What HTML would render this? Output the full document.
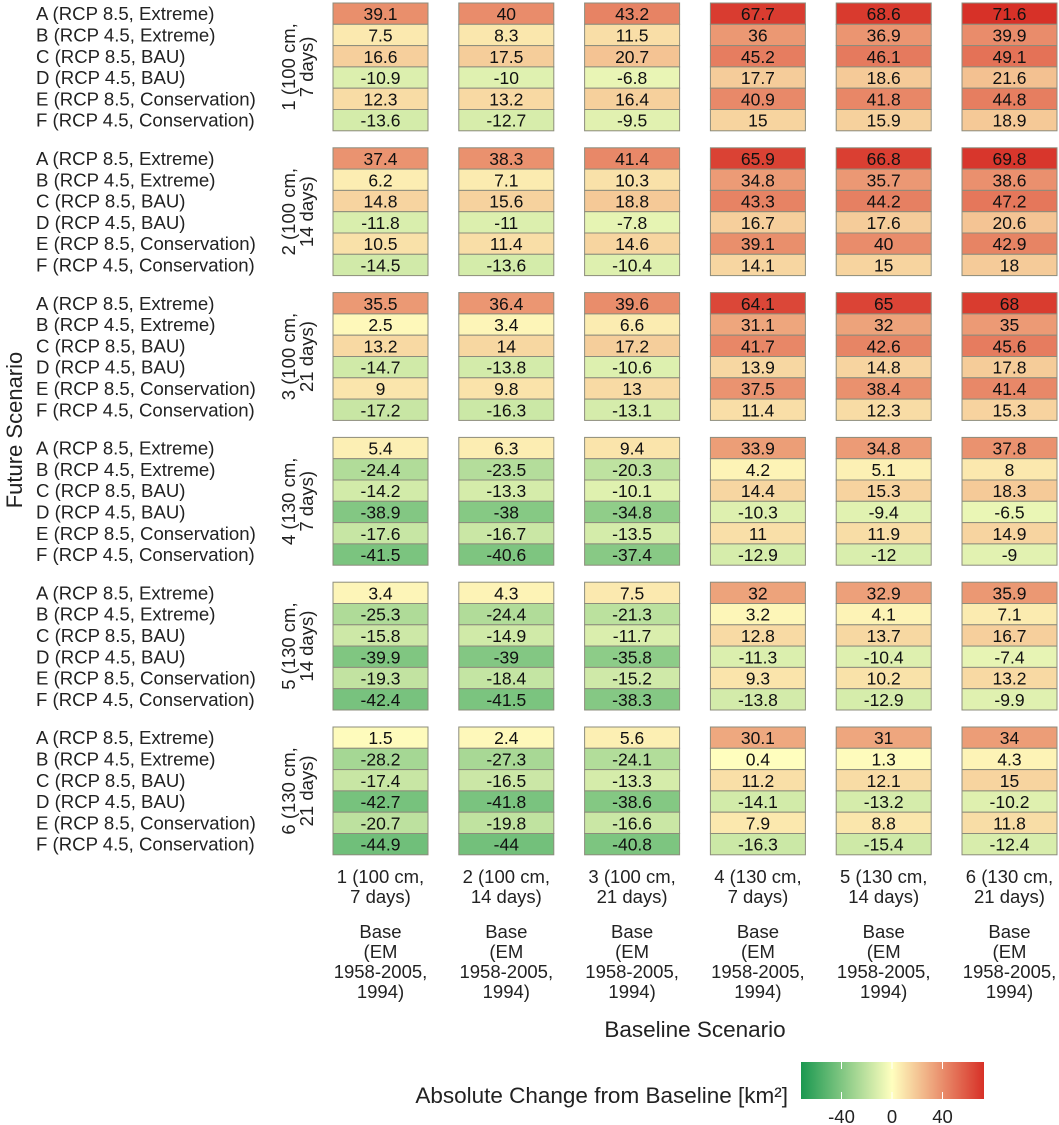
<!DOCTYPE html>
<html><head><meta charset="utf-8">
<style>
html,body{margin:0;padding:0;background:#fff;}
svg{display:block;font-family:"Liberation Sans",Arial,sans-serif;}
</style></head>
<body>
<svg id="chart" width="1059" height="1125" viewBox="0 0 1059 1125" xmlns="http://www.w3.org/2000/svg">
<defs>
<linearGradient id="grad" x1="0" x2="1" y1="0" y2="0">
<stop offset="0" stop-color="#1a9850"/><stop offset="0.497" stop-color="#ffffbf"/><stop offset="1" stop-color="#d73027"/>
</linearGradient>
</defs>
<g id="cells"></g>
<g id="labels"></g>
<text transform="translate(22,430) rotate(-90)" text-anchor="middle" font-size="22" fill="#222">Future Scenario</text>
<text x="695" y="1037" text-anchor="middle" font-size="22.5" fill="#222">Baseline Scenario</text>
<g>
<text x="788" y="1103" text-anchor="end" font-size="22.5" fill="#222">Absolute Change from Baseline [km²]</text>
<rect x="801" y="1062" width="183" height="37" fill="url(#grad)"/>
<g id="legendTicks"></g>
</g>
</svg>
<script>
const rowLabels = ["A (RCP 8.5, Extreme)","B (RCP 4.5, Extreme)","C (RCP 8.5, BAU)","D (RCP 4.5, BAU)","E (RCP 8.5, Conservation)","F (RCP 4.5, Conservation)"];
const panelLine1 = ["1 (100 cm,","2 (100 cm,","3 (100 cm,","4 (130 cm,","5 (130 cm,","6 (130 cm,"];
const panelLine2 = ["7 days)","14 days)","21 days)","7 days)","14 days)","21 days)"];
const legendTicks = [-40, 0, 40];
const panel1 = [[39.1,40,43.2,67.7,68.6,71.6],[7.5,8.3,11.5,36,36.9,39.9],[16.6,17.5,20.7,45.2,46.1,49.1],[-10.9,-10,-6.8,17.7,18.6,21.6],[12.3,13.2,16.4,40.9,41.8,44.8],[-13.6,-12.7,-9.5,15,15.9,18.9]];
const panel2 = [[37.4,38.3,41.4,65.9,66.8,69.8],[6.2,7.1,10.3,34.8,35.7,38.6],[14.8,15.6,18.8,43.3,44.2,47.2],[-11.8,-11,-7.8,16.7,17.6,20.6],[10.5,11.4,14.6,39.1,40,42.9],[-14.5,-13.6,-10.4,14.1,15,18]];
const panel3 = [[35.5,36.4,39.6,64.1,65,68],[2.5,3.4,6.6,31.1,32,35],[13.2,14,17.2,41.7,42.6,45.6],[-14.7,-13.8,-10.6,13.9,14.8,17.8],[9,9.8,13,37.5,38.4,41.4],[-17.2,-16.3,-13.1,11.4,12.3,15.3]];
const panel4 = [[5.4,6.3,9.4,33.9,34.8,37.8],[-24.4,-23.5,-20.3,4.2,5.1,8],[-14.2,-13.3,-10.1,14.4,15.3,18.3],[-38.9,-38,-34.8,-10.3,-9.4,-6.5],[-17.6,-16.7,-13.5,11,11.9,14.9],[-41.5,-40.6,-37.4,-12.9,-12,-9]];
const panel5 = [[3.4,4.3,7.5,32,32.9,35.9],[-25.3,-24.4,-21.3,3.2,4.1,7.1],[-15.8,-14.9,-11.7,12.8,13.7,16.7],[-39.9,-39,-35.8,-11.3,-10.4,-7.4],[-19.3,-18.4,-15.2,9.3,10.2,13.2],[-42.4,-41.5,-38.3,-13.8,-12.9,-9.9]];
const panel6 = [[1.5,2.4,5.6,30.1,31,34],[-28.2,-27.3,-24.1,0.4,1.3,4.3],[-17.4,-16.5,-13.3,11.2,12.1,15],[-42.7,-41.8,-38.6,-14.1,-13.2,-10.2],[-20.7,-19.8,-16.6,7.9,8.8,11.8],[-44.9,-44,-40.8,-16.3,-15.4,-12.4]];
const panels = [panel1,panel2,panel3,panel4,panel5,panel6];

const NS="http://www.w3.org/2000/svg";
const colX = i => 333 + i*125.8;
const cellW = 95, rowH = 21.3;
const panelY = p => 3 + p*144.8;
const rowY = (p,r) => panelY(p) + r*rowH;
const legendX = v => 892 + v*50.5/40;
function lerp(a,b,t){return Math.round(a+(b-a)*t);}
function color(v){
  const lim=72; let t=Math.max(-1,Math.min(1,v/lim));
  let c0=[255,255,191], c1 = t<0?[26,152,80]:[215,48,39]; t=Math.abs(t);
  return `rgb(${lerp(c0[0],c1[0],t)},${lerp(c0[1],c1[1],t)},${lerp(c0[2],c1[2],t)})`;
}
function mk(tag,attrs,parent,text){const e=document.createElementNS(NS,tag);for(const k in attrs)e.setAttribute(k,attrs[k]);if(text!==undefined)e.textContent=text;parent.appendChild(e);return e;}
const cells=document.getElementById('cells'), labels=document.getElementById('labels');
panels.forEach((pd,p)=>{
  pd.forEach((row,r)=>{
    row.forEach((v,c)=>{
      const rc=mk('rect',{x:colX(c),y:rowY(p,r),width:cellW,height:rowH,fill:color(v),stroke:'#8c8c7c','stroke-width':1},cells);
      
      
      const t=mk('text',{x:colX(c)+cellW/2,y:rowY(p,r)+rowH/2+6.5,'text-anchor':'middle','font-size':17.5,fill:'#111'},cells,String(v));
      
      
    });
    const rl=mk('text',{x:36,y:rowY(p,r)+rowH/2+6.5,'font-size':18.6,fill:'#222'},labels,rowLabels[r]);
    
    
  });
  const cy=panelY(p)+3*rowH;
  const g=mk('text',{transform:`translate(0,${cy}) rotate(-90)`,'text-anchor':'middle','font-size':18.5,fill:'#222'},labels);
  
  
  mk('tspan',{x:0,y:295},g,panelLine1[p]);
  mk('tspan',{x:0,y:313},g,panelLine2[p]);
});
for(let c=0;c<6;c++){
  const cx=colX(c)+cellW/2;
  const lines=[panelLine1[c],panelLine2[c],null,"Base","(EM","1958-2005,","1994)"];
  const ys=[883,903,null,938,958,978,998];
  lines.forEach((s,i)=>{ if(s===null)return;
    const t=mk('text',{x:cx,y:ys[i],'text-anchor':'middle','font-size':18.5,fill:'#222'},labels,s);
    
    
  });
}
const lt=document.getElementById('legendTicks');
legendTicks.forEach(v=>{
  const x=legendX(v);
  const a=mk('line',{x1:x,x2:x,y1:1062,y2:1069,stroke:'#fff','stroke-width':1},lt);
  
  
  const b=mk('line',{x1:x,x2:x,y1:1092,y2:1099,stroke:'#fff','stroke-width':1},lt);
  
  
  const t=mk('text',{x:x,y:1123,'text-anchor':'middle','font-size':18.5,fill:'#222'},lt,String(v));
  
  
});
</script>
</body></html>
